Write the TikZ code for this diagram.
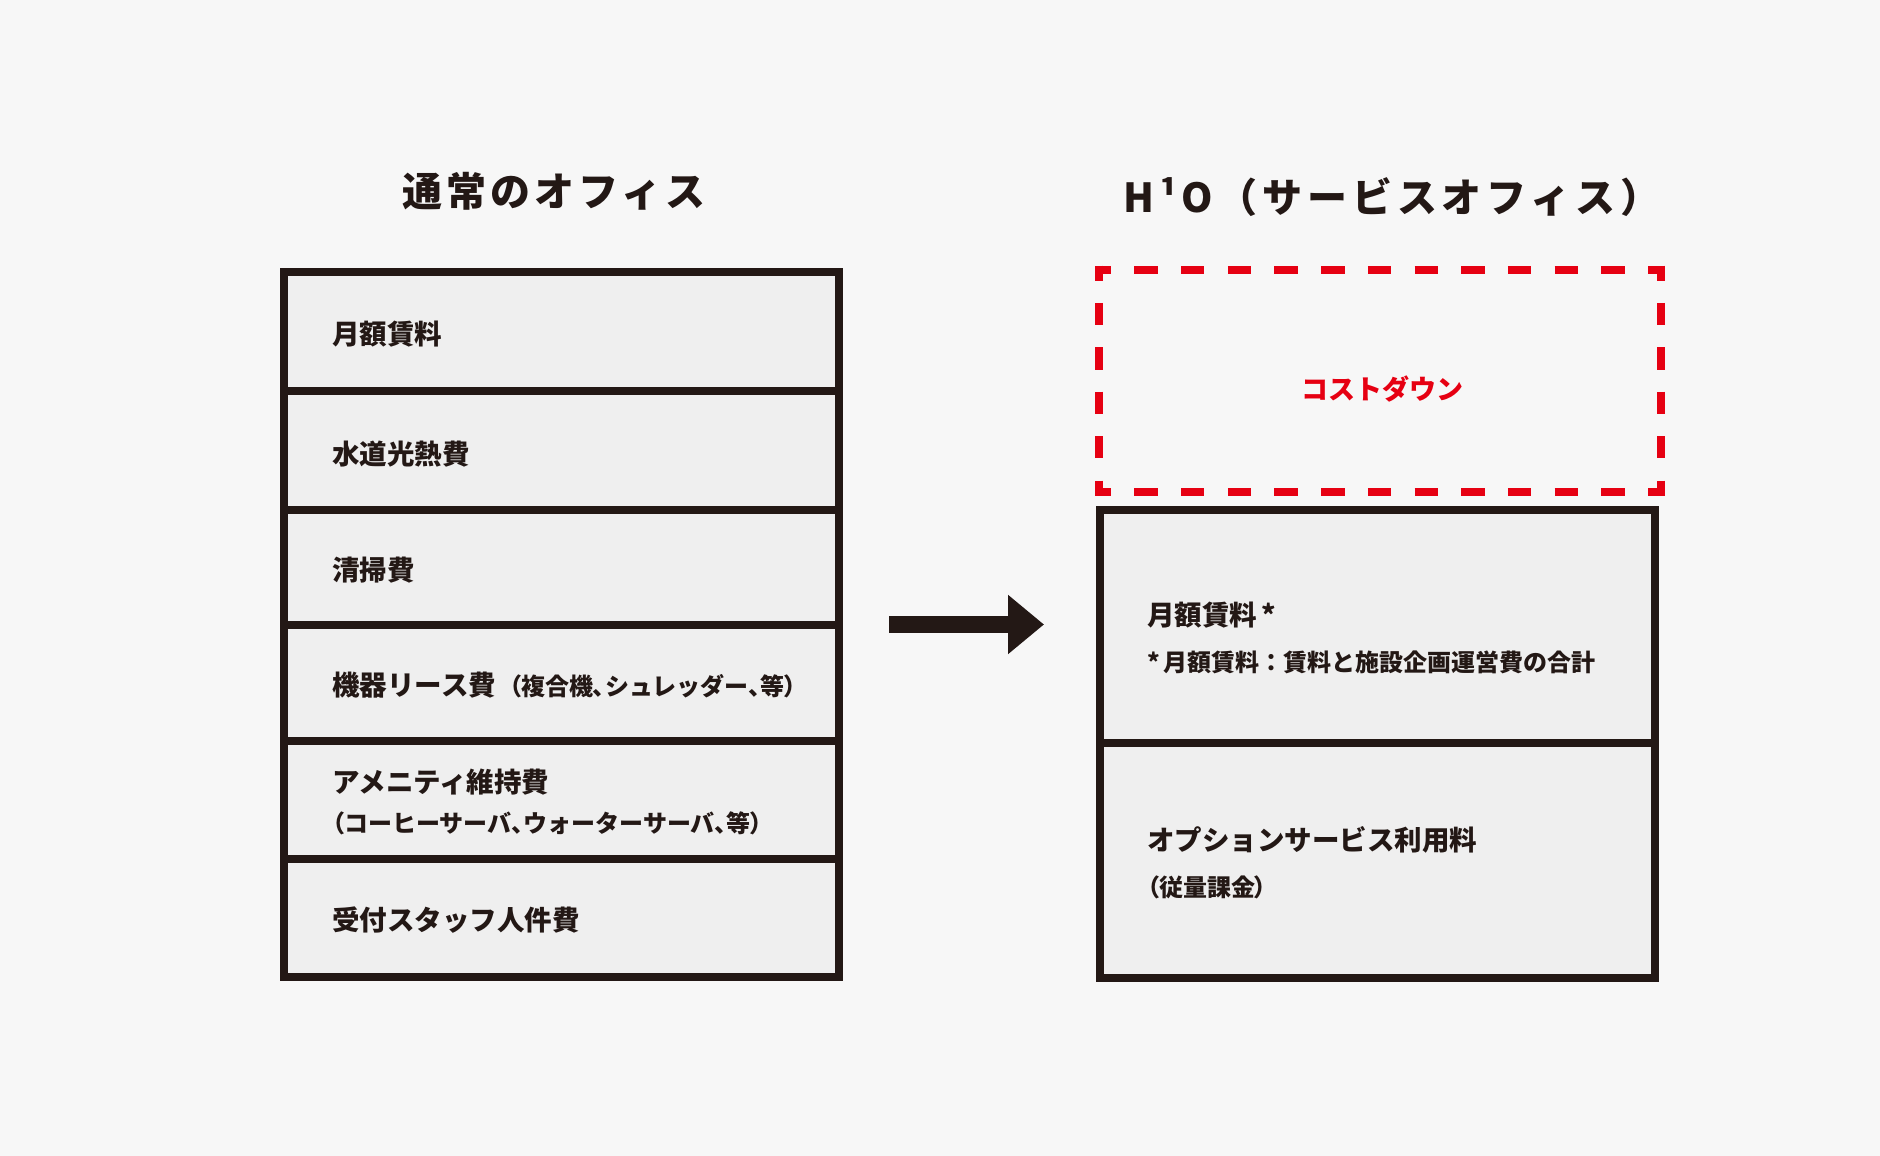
\documentclass[tikz,border=0pt]{standalone}
\usepackage{fontspec}
\newfontfamily\jp{Noto Sans CJK JP}
\newfontfamily\jpp{Noto Sans CJK JP}[RawFeature=+palt]
\newcommand{\hp}[1]{{\jpp\bfseries #1}}
\usetikzlibrary{arrows.meta,calc}
\definecolor{bg}{HTML}{F7F7F7}
\definecolor{cellfill}{HTML}{EFEFEF}
\definecolor{ink}{HTML}{231815}
\definecolor{cdred}{HTML}{E60012}
\begin{document}
\begin{tikzpicture}[x=0.5pt,y=-0.5pt,
  cell/.style={draw=ink, fill=cellfill, line width=4pt, inner sep=0pt, minimum width=277.5pt},
  lbl/.style={anchor=west, inner sep=0pt, text=ink, font=\jp\bfseries\fontsize{13.75pt}{16pt}\selectfont, text height=11.4pt, text depth=0.96pt},
  lblsmall/.style={anchor=west, inner sep=0pt, text=ink, font=\jp\bfseries\fontsize{12pt}{14pt}\selectfont, text height=9.95pt, text depth=0.84pt},
  lblnote/.style={anchor=west, inner sep=0pt, text=ink, font=\jp\bfseries\fontsize{12pt}{14pt}\selectfont, text height=9.95pt, text depth=0.84pt},
  title/.style={inner sep=0pt, text=ink, font=\jp\bfseries\fontsize{20pt}{24pt}\selectfont\addfontfeature{LetterSpace=10}, text height=16.6pt, text depth=1.4pt},
  titleb/.style={title, font=\jp\bfseries\fontsize{20pt}{24pt}\selectfont\addfontfeature{LetterSpace=12}},
  reddash/.style={draw=cdred, line width=4pt, line cap=butt},
  redtext/.style={inner sep=0pt, text=cdred, font=\jp\bfseries\fontsize{13.5pt}{16pt}\selectfont, text height=11.2pt, text depth=0.95pt}
]
\fill[bg] (0,0) rectangle (1880,1156);
\useasboundingbox (0,0) rectangle (1880,1156);

% titles
\node[title] (h1) at (554,191.5) {通常のオフィス};
\node[titleb] (h2) at (1392,197) {H¹O（サービスオフィス）};

% left column
\node[cell, minimum height=59.5pt]  (r1) at (561.5,331.5) {};
\node[cell, minimum height=59.5pt]  (r2) at (561.5,450.5) {};
\node[cell, minimum height=57.25pt] (r3) at (561.5,567.25) {};
\node[cell, minimum height=58pt]    (r4) at (561.5,682.5) {};
\node[cell, minimum height=59.25pt] (r5) at (561.5,799.75) {};
\node[cell, minimum height=59pt]    (r6) at (561.5,918) {};

\node[lbl] (t1) at (332,334) {月額賃料};
\node[lbl] (t2) at (332,454) {水道光熱費};
\node[lbl] (t3) at (332,570.5) {清掃費};
\node[lbl] (t4) at (332,685) {機器リース費\hspace{6.5pt}{\fontsize{12pt}{14pt}\selectfont \hp{（}複合機\hp{、}シュレッダー\hp{、}等\hp{）}}};
\node[lbl] (t5a) at (332,782.5) {アメニティ維持費};
\node[lblsmall] (t5b) at (332,823) {\hp{（}コーヒーサーバ\hp{、}ウォーターサーバ\hp{、}等\hp{）}};
\node[lbl] (t6) at (332,920) {受付スタッフ人件費};

% arrow
\coordinate (a1) at (889,624.5);
\coordinate (a2) at (1044,624.5);
\draw[ink, line width=8.35pt, -{Triangle[length=18pt,width=28.5pt]}] (a1) -- (a2);

% cost-down dashed box
\node[inner sep=0pt, minimum width=280.25pt, minimum height=111pt] (cd) at (1380,381) {};
\node[redtext] (cdt) at (1382,389.5) {コストダウン};
\draw[reddash, dash pattern=on 11.675pt off 11.675pt, dash phase=3.84pt]
  ($(cd.north west)+(-4,0)$) -- ($(cd.north east)+(4,0)$);
\draw[reddash, dash pattern=on 11.675pt off 11.675pt, dash phase=3.84pt]
  ($(cd.south west)+(-4,0)$) -- ($(cd.south east)+(4,0)$);
\draw[reddash, dash pattern=on 11.1pt off 11.1pt, dash phase=3.55pt]
  ($(cd.north west)+(0,-4)$) -- ($(cd.south west)+(0,4)$);
\draw[reddash, dash pattern=on 11.1pt off 11.1pt, dash phase=3.55pt]
  ($(cd.north east)+(0,-4)$) -- ($(cd.south east)+(0,4)$);

% right column
\node[cell, minimum height=116.65pt] (s1) at (1377,626.65) {};
\node[cell, minimum height=117.35pt] (s2) at (1377,860.65) {};

\node[lbl] (u1) at (1146.6,615) {月額賃料\hspace{2pt}*};
\node[lblnote] (u2) at (1146.6,662) {*\hspace{2pt}月額賃料：賃料と施設企画運営費の合計};
\node[lbl] (u3) at (1146.6,840) {オプションサービス利用料};
\node[lblsmall] (u4) at (1146.6,887) {\hp{（}従量課金\hp{）}};
\end{tikzpicture}
\end{document}
